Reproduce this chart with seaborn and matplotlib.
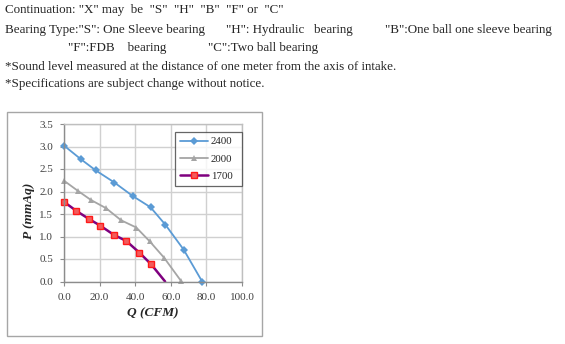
import matplotlib
matplotlib.use("Agg")
import matplotlib.pyplot as plt
import matplotlib.patches as patches
from matplotlib.ticker import FormatStrFormatter
import seaborn as sns
import pandas as pd

# ---- data ----
q_2400 = [0, 9.4, 17.8, 28.3, 38.6, 48.6, 57.0, 67.2, 77.6]
p_2400 = [3.02, 2.72, 2.47, 2.20, 1.90, 1.65, 1.26, 0.71, 0.0]
q_2000 = [0, 7.6, 15.2, 23.6, 32.1, 40.6, 48.2, 56.2, 65.6]
p_2000 = [2.24, 2.02, 1.81, 1.63, 1.36, 1.20, 0.89, 0.53, 0.02]
q_1700 = [0, 6.9, 14.0, 20.4, 27.9, 35.0, 42.4, 49.0, 56.8]
p_1700 = [1.77, 1.57, 1.39, 1.24, 1.04, 0.90, 0.64, 0.38, 0.0]
series_labels = ["2400", "2000", "1700"]
x_ticks = [0, 20, 40, 60, 80, 100]
y_ticks = [0, 0.5, 1.0, 1.5, 2.0, 2.5, 3.0, 3.5]

header_lines = [
    'Continuation: "X" may  be  "S"  "H"  "B"  "F" or  "C"',
    'Bearing Type:"S": One Sleeve bearing',
    '*Sound level measured at the distance of one meter from the axis of intake.',
    '*Specifications are subject change without notice.',
]
line2_h = '"H": Hydraulic   bearing'
line2_b = '"B":One ball one sleeve bearing'
line3_f = '"F":FDB    bearing'
line3_c = '"C":Two ball bearing'

sns.set_style("white")
plt.rcParams['font.family'] = ['Liberation Serif', 'DejaVu Serif']

W, H = 565, 344
fig = plt.figure(figsize=(W / 100, H / 100), dpi=100)

def fx(px):
    return px / W

def fy(py):
    return 1 - py / H

fs = 9.4
fig.text(fx(5), fy(10), header_lines[0], fontsize=fs, va='center', ha='left')
fig.text(fx(5), fy(29.5), header_lines[1], fontsize=fs, va='center', ha='left')
fig.text(fx(226), fy(29.5), line2_h, fontsize=fs, va='center', ha='left')
fig.text(fx(385), fy(29.5), line2_b, fontsize=fs, va='center', ha='left')
fig.text(fx(68), fy(48.5), line3_f, fontsize=fs, va='center', ha='left')
fig.text(fx(208), fy(48.5), line3_c, fontsize=fs, va='center', ha='left')
fig.text(fx(5), fy(67), header_lines[2], fontsize=fs, va='center', ha='left')
fig.text(fx(5), fy(84.5), header_lines[3], fontsize=fs, va='center', ha='left')

# chart frame
fig.patches.append(patches.Rectangle((fx(6.7), fy(336)), (261.7 - 6.7) / W, (336 - 112) / H,
                                     transform=fig.transFigure, fill=False,
                                     edgecolor='#A6A6A6', linewidth=1.0))

ax = fig.add_axes([fx(64), fy(281.5), (242 - 64) / W, (281.5 - 124) / H])

df24 = pd.DataFrame({"Q": q_2400, "P": p_2400})
df20 = pd.DataFrame({"Q": q_2000, "P": p_2000})
df17 = pd.DataFrame({"Q": q_1700, "P": p_1700})

sns.lineplot(data=df24, x="Q", y="P", ax=ax, sort=False, color="#5B9BD5",
             linewidth=1.3, marker="D", markersize=3.6, markeredgewidth=0,
             label=series_labels[0], clip_on=False)
sns.lineplot(data=df20, x="Q", y="P", ax=ax, sort=False, color="#A5A5A5",
             linewidth=1.3, marker="^", markersize=4.5, markeredgewidth=0,
             label=series_labels[1], clip_on=False)
sns.lineplot(data=df17, x="Q", y="P", ax=ax, sort=False, color="#7F007F",
             linewidth=1.8, marker="s", markersize=4.8, markerfacecolor="#F25C5C",
             markeredgecolor="#FF1A1A", markeredgewidth=1.0,
             markevery=list(range(len(q_1700) - 1)),
             label=series_labels[2], clip_on=False)

ax.set_xlim(0, 100)
ax.set_ylim(0, 3.5)
ax.set_xticks(x_ticks)
ax.set_yticks(y_ticks)
ax.xaxis.set_major_formatter(FormatStrFormatter('%.1f'))
ax.yaxis.set_major_formatter(FormatStrFormatter('%.1f'))
ax.grid(True, color='#D0D0D0', linewidth=1.0)
ax.set_axisbelow(True)
for s in ax.spines.values():
    s.set_color('#BFBFBF')
    s.set_linewidth(1.0)
ax.spines['left'].set_color('#8C8C8C')
ax.spines['bottom'].set_color('#8C8C8C')
ax.tick_params(axis='both', labelsize=8, length=3, color='#8C8C8C',
               direction='out', pad=5)
ax.tick_params(axis='x', bottom=True)
ax.tick_params(axis='y', left=True)
for lab in ax.get_xticklabels() + ax.get_yticklabels():
    lab.set_color('#404040')

ax.set_xlabel("Q (CFM)", fontsize=9.6, fontweight='bold', fontstyle='italic')
ax.set_ylabel("P (mmAq)", fontsize=9.6, fontweight='bold', fontstyle='italic')
ax.xaxis.set_label_coords(0.5, (281.5 - 313) / 157.5)
ax.yaxis.set_label_coords((29 - 64) / 178, (281.5 - 211) / 157.5)
ax.xaxis.label.set_va('center')
ax.yaxis.label.set_va('center')

leg = ax.legend(loc='upper right', bbox_to_anchor=((175 - 64) / 178, 0.0, 67 / 178, 0.949),
                mode='expand', borderaxespad=0,
                fontsize=7.8, frameon=True, fancybox=False, handlelength=2.6,
                handletextpad=0.25, borderpad=0.45, labelspacing=0.7)
leg.get_frame().set_edgecolor('#404040')
leg.get_frame().set_linewidth(0.9)

fig.savefig("out.png", dpi=100)
